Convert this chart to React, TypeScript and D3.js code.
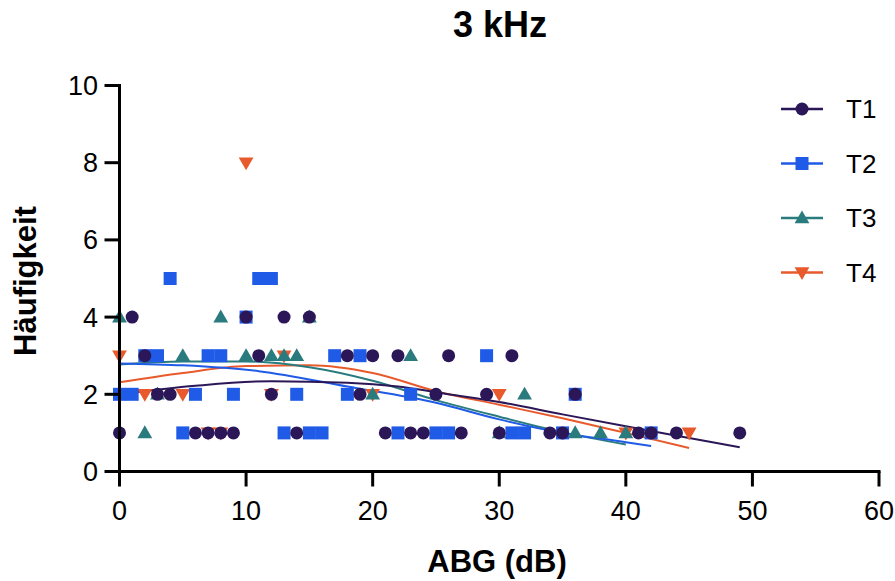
import React from "react";
import * as d3 from "d3";

const xTicks = [0, 10, 20, 30, 40, 50, 60];
const yTicks = [0, 2, 4, 6, 8, 10];

const t1X = [0, 6, 7, 8, 9, 14, 21, 23, 24, 27, 30, 34, 35, 41, 42, 44, 49, 3, 4, 12, 19, 25, 29, 36, 2, 11, 18, 20, 22, 26, 31, 1, 10, 13, 15];
const t1Y = [1, 1, 1, 1, 1, 1, 1, 1, 1, 1, 1, 1, 1, 1, 1, 1, 1, 2, 2, 2, 2, 2, 2, 2, 3, 3, 3, 3, 3, 3, 3, 4, 4, 4, 4];

const t2X = [5, 13, 15, 16, 22, 25, 26, 31, 32, 35, 42, 0, 1, 6, 9, 14, 18, 23, 36, 2, 3, 7, 8, 17, 19, 29, 10, 4, 11, 12];
const t2Y = [1, 1, 1, 1, 1, 1, 1, 1, 1, 1, 1, 2, 2, 2, 2, 2, 2, 2, 2, 3, 3, 3, 3, 3, 3, 3, 4, 5, 5, 5];

const t3X = [2, 30, 36, 38, 40, 3, 20, 32, 5, 10, 12, 13, 14, 23, 0, 8, 15];
const t3Y = [1, 1, 1, 1, 1, 2, 2, 2, 3, 3, 3, 3, 3, 3, 4, 4, 4];

const t4X = [7, 8, 40, 45, 2, 5, 12, 20, 30, 0, 13, 10];
const t4Y = [1, 1, 1, 1, 2, 2, 2, 2, 2, 3, 3, 8];

// fitted curves
const fit1X = [0, 6, 12, 18, 22, 26, 30, 35, 40, 45, 49];
const fit1Y = [2.0, 2.22, 2.34, 2.3, 2.2, 2.0, 1.8, 1.48, 1.17, 0.87, 0.63];
const fit2X = [0, 5, 11, 18, 25, 30, 35, 40, 42];
const fit2Y = [2.8, 2.75, 2.6, 2.2, 1.78, 1.35, 1.0, 0.76, 0.66];
const fit3X = [0, 5, 10, 15, 20, 25, 30, 35, 40];
const fit3Y = [2.77, 2.85, 2.85, 2.7, 2.35, 1.85, 1.42, 1.02, 0.7];
const fit4X = [0, 5, 10, 15, 20, 25, 30, 35, 40, 45];
const fit4Y = [2.31, 2.55, 2.73, 2.75, 2.55, 2.08, 1.73, 1.38, 1.0, 0.61];

const seriesNames = ["T1", "T2", "T3", "T4"];
const colors = ["#2b1758", "#1f5be6", "#2a7b7e", "#e85a2c"];

const W = 895;
const H = 581;
const X0 = 119.5;
const X1 = 879;
const Y0 = 471.5;
const Y1 = 85.5;

const FONT = "'Liberation Sans', Arial, Helvetica, sans-serif";

function Marker({ kind, x, y, color }: { kind: number; x: number; y: number; color: string }) {
  if (kind === 0) return <circle cx={x} cy={y} r={6.5} fill={color} />;
  if (kind === 1) return <rect x={x - 6.5} y={y - 6.5} width={13} height={13} fill={color} />;
  if (kind === 2) {
    const p = d3.symbol().type(d3.symbolTriangle).size(95)();
    return <path d={p || ""} transform={`translate(${x},${y + 1})`} fill={color} />;
  }
  const p = d3.symbol().type(d3.symbolTriangle).size(95)();
  return <path d={p || ""} transform={`translate(${x},${y - 1}) rotate(180)`} fill={color} />;
}

export default function App() {
  const x = d3.scaleLinear().domain([0, 60]).range([X0, X1]);
  const y = d3.scaleLinear().domain([0, 10]).range([Y0, Y1]);

  const pts = [
    t1X.map((v, i) => [v, t1Y[i]]),
    t2X.map((v, i) => [v, t2Y[i]]),
    t3X.map((v, i) => [v, t3Y[i]]),
    t4X.map((v, i) => [v, t4Y[i]]),
  ];
  const fits = [
    fit1X.map((v, i) => [v, fit1Y[i]]),
    fit2X.map((v, i) => [v, fit2Y[i]]),
    fit3X.map((v, i) => [v, fit3Y[i]]),
    fit4X.map((v, i) => [v, fit4Y[i]]),
  ];
  const line = d3
    .line<number[]>()
    .x((d) => x(d[0]))
    .y((d) => y(d[1]))
    .curve(d3.curveMonotoneX);

  const drawOrder = [3, 2, 1, 0];
  const legendY = [109, 163.5, 218, 272.5];

  return (
    <svg width={W} height={H} style={{ position: "absolute", left: 0, top: 0, background: "#fff" }} fontFamily={FONT}>
      <rect width={W} height={H} fill="#fff" />
      <text x={500} y={37} textAnchor="middle" fontWeight="bold" fontSize={36}>3 kHz</text>

      {/* fit lines */}
      {drawOrder.map((s) => (
        <path key={"f" + s} d={line(fits[s] as any) || ""} fill="none" stroke={colors[s]} strokeWidth={2} />
      ))}
      {/* markers */}
      {drawOrder.map((s) =>
        pts[s].map((d, i) => <Marker key={s + "-" + i} kind={s} x={x(d[0])} y={y(d[1])} color={colors[s]} />)
      )}

      {/* axes */}
      <line x1={X0} x2={X0} y1={Y1 - 1.5} y2={Y0 + 1.5} stroke="#000" strokeWidth={3} />
      <line x1={X0 - 1.5} x2={X1 + 1.5} y1={Y0} y2={Y0} stroke="#000" strokeWidth={3} />
      {xTicks.map((t) => (
        <g key={"xt" + t}>
          <line x1={x(t)} x2={x(t)} y1={Y0} y2={Y0 + 15} stroke="#000" strokeWidth={3} />
          <text x={x(t)} y={520} textAnchor="middle" fontSize={27}>{t}</text>
        </g>
      ))}
      {yTicks.map((t) => (
        <g key={"yt" + t}>
          <line x1={X0 - 15} x2={X0} y1={y(t)} y2={y(t)} stroke="#000" strokeWidth={3} />
          <text x={98} y={y(t) + 9.5} textAnchor="end" fontSize={27}>{t}</text>
        </g>
      ))}
      <text x={497} y={572} textAnchor="middle" fontWeight="bold" fontSize={31}>ABG (dB)</text>
      <text transform={`translate(36,281) rotate(-90)`} textAnchor="middle" fontWeight="bold" fontSize={31}>Häufigkeit</text>

      {/* legend */}
      {seriesNames.map((n, s) => (
        <g key={"lg" + s}>
          <line x1={781} x2={823} y1={legendY[s]} y2={legendY[s]} stroke={colors[s]} strokeWidth={2.5} />
          <Marker kind={s} x={802} y={legendY[s]} color={colors[s]} />
          <text x={846} y={legendY[s] + 9} fontSize={26}>{n}</text>
        </g>
      ))}
    </svg>
  );
}
